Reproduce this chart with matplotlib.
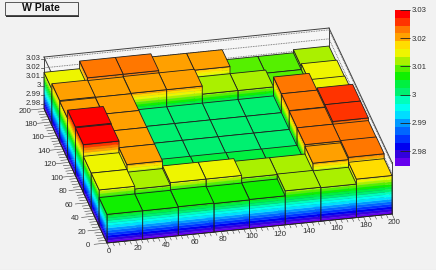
import numpy as np
import matplotlib
matplotlib.use('Agg')
import matplotlib.pyplot as plt
from matplotlib.patches import Polygon, Rectangle

plt.rcParams['font.family'] = ['Liberation Sans', 'DejaVu Sans']

# bin contents, rows are y bins (front to back), columns are x bins
row0 = [3.0065, 3.0065, 3.007, 3.0065, 3.007, 3.0125, 3.012, 3.0175]
row1 = [3.015, 3.012, 3.015, 3.015, 3.012, 3.012, 3.0205, 3.023]
row2 = [3.015, 3.0205, 3.003, 3.003, 3.003, 3.003, 3.0225, 3.0225]
row3 = [3.028, 3.0205, 3.002, 3.002, 3.002, 3.002, 3.0225, 3.0255]
row4 = [3.029, 3.0205, 3.002, 3.002, 3.002, 3.002, 3.023, 3.0255]
row5 = [3.020, 3.0205, 3.002, 3.002, 3.002, 3.002, 3.023, 3.016]
row6 = [3.021, 3.0205, 3.021, 3.021, 3.012, 3.012, 3.0085, 3.015]
row7 = [3.015, 3.0235, 3.0235, 3.020, 3.020, 3.0085, 3.0085, 3.012]
xy_edges = [0, 25, 50, 75, 100, 125, 150, 175, 200]
xy_ticks = [0, 20, 40, 60, 80, 100, 120, 140, 160, 180, 200]
z_ticks = [2.98, 2.99, 3.0, 3.01, 3.02, 3.03]
z_labels = ['2.98', '2.99', '3', '3.01', '3.02', '3.03']

palette = ['#6600ee', '#3300dd', '#0000f0', '#0033ff', '#0066ff', '#0099ff', '#00ddff',
           '#00ffee', '#00ffbb', '#00f070', '#00f040', '#10f000', '#55f000', '#aaf000',
           '#eef500', '#ffdd00', '#ffa000', '#ff7700', '#ff3300', '#ff0000']

grid = np.array([row0, row1, row2, row3, row4, row5, row6, row7])
z_min, z_max, z_frame = 2.9747, 3.03, 3.032
levels = np.linspace(z_min, z_max, len(palette) + 1)


# parallel projection of the lego frame onto the canvas (pixels)
def project(x, y, z):
    px = 107 + x * 285 / 200 - y * 63 / 200
    py = 243 - x * 29 / 200 - y * 134.4 / 200 - (z - z_min) * 900
    return px, py


def level_of(z):
    return min(int((z - z_min) / (levels[1] - levels[0])), len(palette) - 1)


def face(ax, p, q, z_top):
    # one side of a bar, painted in contour bands, p and q are (x, y)
    for k in range(len(palette)):
        lo, hi = levels[k], min(levels[k + 1], z_top)
        if lo >= z_top:
            break
        corners = [project(*p, lo), project(*q, lo), project(*q, hi), project(*p, hi)]
        ax.add_patch(Polygon(corners, fc=palette[k], ec=palette[k], lw=0.2, zorder=3))
    outline = [project(*p, z_min), project(*q, z_min), project(*q, z_top), project(*p, z_top)]
    ax.add_patch(Polygon(outline, fill=False, ec='#202020', lw=0.6, zorder=3))


fig = plt.figure(figsize=(4.36, 2.7), dpi=100, facecolor='#f2f2f2')
ax = fig.add_axes([0, 0, 1, 1])
ax.set_xlim(0, 436)
ax.set_ylim(270, 0)
ax.axis('off')

# back walls
wall = [project(0, 200, z_min), project(0, 200, z_frame), project(200, 200, z_frame),
        project(200, 0, z_frame), project(200, 0, z_min), project(200, 200, z_min)]
ax.add_patch(Polygon(wall, fc='#f6f6f6', ec='none', zorder=1))
frame = [[(0, 200, z_min), (0, 200, z_frame)], [(0, 200, z_frame), (200, 200, z_frame)],
         [(200, 200, z_frame), (200, 0, z_frame)], [(200, 0, z_frame), (200, 0, z_min)],
         [(0, 200, z_frame), (0, 0, z_frame)], [(200, 200, z_frame), (200, 200, z_min)]]
for a, b in frame:
    pa, pb = project(*a), project(*b)
    ax.plot([pa[0], pb[0]], [pa[1], pb[1]], color='#404040', lw=0.7, zorder=2)
for z in z_ticks:
    pa, pb, pc = project(0, 200, z), project(200, 200, z), project(200, 0, z)
    ax.plot([pa[0], pb[0], pc[0]], [pa[1], pb[1], pc[1]], color='#606060', lw=0.6,
            ls=(0, (1, 1)), zorder=2)

# bars, back to front
for j in range(7, -1, -1):
    for i in range(7, -1, -1):
        x0, x1 = xy_edges[i], xy_edges[i + 1]
        y0, y1 = xy_edges[j], xy_edges[j + 1]
        z = grid[j, i]
        face(ax, (x0, y0), (x1, y0), z)
        face(ax, (x0, y1), (x0, y0), z)
        top = [project(x0, y0, z), project(x1, y0, z), project(x1, y1, z), project(x0, y1, z)]
        ax.add_patch(Polygon(top, fc=palette[level_of(z)], ec='#202020', lw=0.6, zorder=3))

# x axis
pa, pb = project(0, 0, z_min), project(200, 0, z_min)
ax.plot([pa[0], pb[0]], [pa[1], pb[1]], color='#202020', lw=0.6, zorder=4)
for v in np.arange(0, 201, 4):
    p = project(v, 0, z_min)
    q = project(v, -9 if v % 20 == 0 else -5, z_min)
    ax.plot([p[0], q[0]], [p[1], q[1]], color='#404040', lw=0.4, zorder=4)
for v in xy_ticks:
    p = project(v, 0, z_min)
    ax.text(p[0] + 2, p[1] + 8.5, str(v), fontsize=5.6, ha='center', va='center', color='#303030')

# y axis
pa, pb = project(0, 0, z_min), project(0, 200, z_min)
ax.plot([pa[0], pb[0]], [pa[1], pb[1]], color='#202020', lw=0.6, zorder=4)
for v in np.arange(0, 201, 4):
    p = project(0, v, z_min)
    q = project(-9 if v % 20 == 0 else -5, v, z_min)
    ax.plot([p[0], q[0]], [p[1], q[1]], color='#404040', lw=0.4, zorder=4)
for v in xy_ticks:
    p = project(0, v, z_min)
    ax.text(p[0] - 19, p[1] + 2.5, str(v), fontsize=5.6, ha='center', va='center', color='#303030')

# z axis
for z, label in zip(z_ticks, z_labels):
    p = project(0, 200, z)
    ax.plot([p[0] - 3, p[0]], [p[1], p[1]], color='#404040', lw=0.5, zorder=4)
    ax.text(p[0] - 3, p[1], label, fontsize=5.6, ha='right', va='center', color='#303030')

# title box
ax.add_patch(Rectangle((6, 3), 73, 13.5, fc='#303030', ec='none', zorder=5))
ax.add_patch(Rectangle((4.5, 1.5), 73, 13.5, fc='#f2f2f2', ec='#404040', lw=0.6, zorder=6))
ax.text(41, 8.3, 'W Plate', fontsize=7.6, fontweight='bold', ha='center', va='center',
        color='#111111', zorder=7)

ax.plot([0, 436], [269.5, 269.5], color='#d8d8d8', lw=0.8)

# palette on the right
cax = fig.add_axes([395 / 436, 1 - 166 / 270, 15 / 436, 156 / 270])
cax.pcolormesh([0, 1], levels, np.arange(len(palette)).reshape(-1, 1),
               cmap=matplotlib.colors.ListedColormap(palette), shading='flat')
cax.set_ylim(z_min, z_max)
cax.set_xticks([])
cax.set_yticks(z_ticks)
cax.set_yticklabels(z_labels, fontsize=5.6, color='#303030')
cax.yaxis.tick_right()
cax.tick_params(axis='y', direction='in', length=7, width=0.6, pad=1.5, color='#202020')
for s in cax.spines.values():
    s.set_visible(False)

fig.savefig('out.png', dpi=100, facecolor=fig.get_facecolor())
